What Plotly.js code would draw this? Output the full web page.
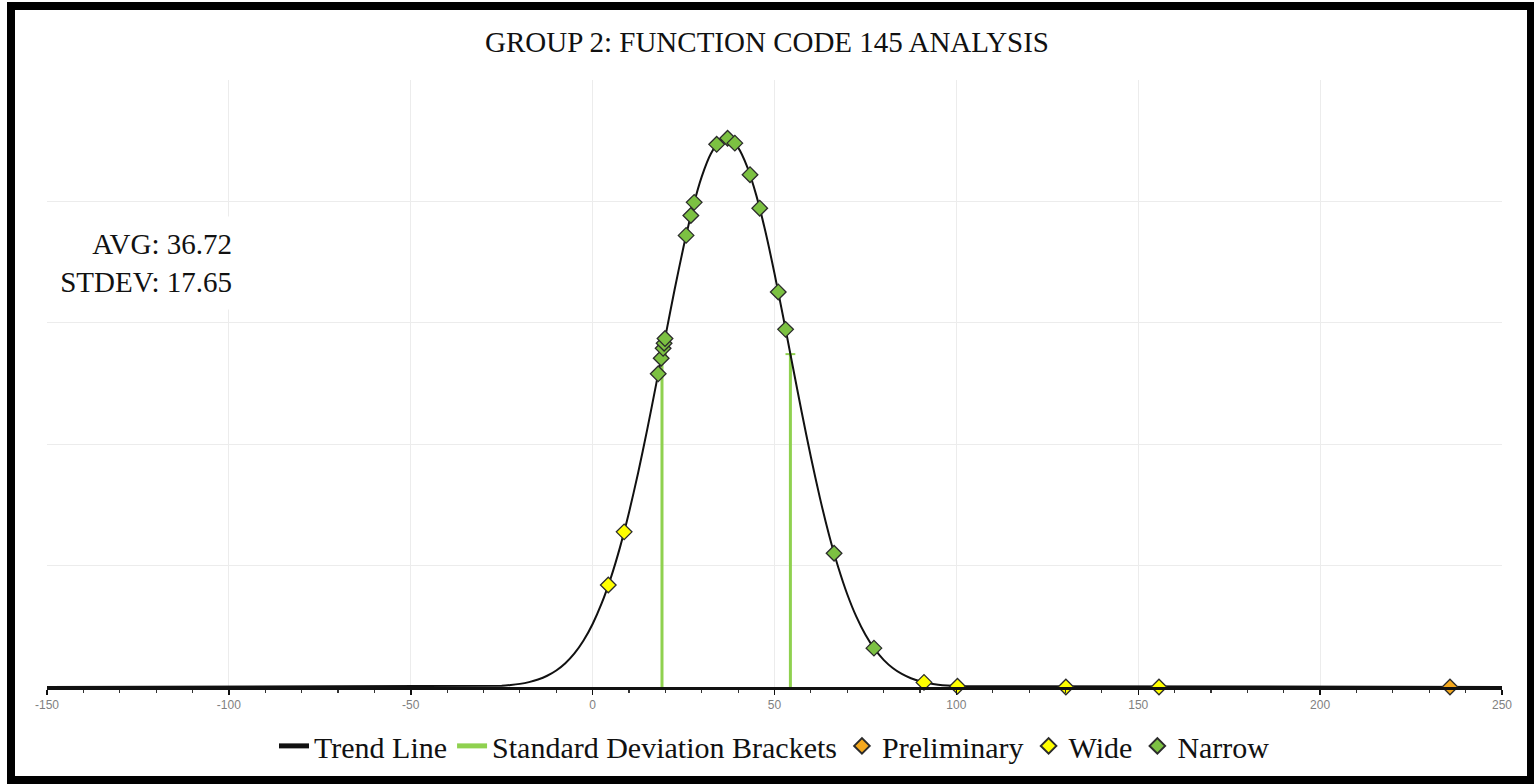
<!DOCTYPE html>
<html>
<head>
<meta charset="utf-8">
<script src="https://cdn.plot.ly/plotly-3.0.1.min.js"></script>
<style>
  html, body { margin: 0; padding: 0; background: #ffffff; }
  #chart { position: absolute; left: 0; top: 0; width: 1534px; height: 784px; }
  #frame { position: absolute; left: 7px; top: 2px; width: 1527px; height: 782px;
           box-sizing: border-box; border: 8px solid #000; border-right-width: 7px;
           pointer-events: none; }
</style>
</head>
<body>
<div id="chart"></div>
<div id="frame"></div>
<script>
// ---- data ----
const trendX = [-150, -25, -22.5, -20, -17.5, -15, -12.5, -10, -7.5, -5, -2.5, 0, 2.5, 5, 7.5, 10, 12.5, 15, 17.5, 20, 22.5, 25, 27.5, 30, 32.5, 35, 37.5, 40, 42.5, 45, 47.5, 50, 52.5, 55, 57.5, 60, 62.5, 65, 67.5, 70, 72.5, 75, 77.5, 80, 82.5, 85, 87.5, 90, 92.5, 95, 97.5, 100, 250];
const trendY = [0, 0.00005, 0.000081, 0.000129, 0.000202, 0.000309, 0.000463, 0.00068, 0.00098, 0.001383, 0.001914, 0.002596, 0.00345, 0.004496, 0.005741, 0.007186, 0.008816, 0.010601, 0.012493, 0.014432, 0.016339, 0.018131, 0.01972, 0.021023, 0.021966, 0.022496, 0.022581, 0.022216, 0.021423, 0.020248, 0.018757, 0.01703, 0.015157, 0.01322, 0.011303, 0.009471, 0.007779, 0.006261, 0.004941, 0.003821, 0.002896, 0.002151, 0.001567, 0.001118, 0.000782, 0.000536, 0.00036, 0.000237, 0.000153, 0.000097, 0.00006, 0.000037, 0];

const bracketX = [19.07, 54.37];
const bracketTop = [0.01371, 0.01371];

const prelimX = [235.7];
const prelimY = [0];

const wideX = [4.3, 8.66, 91.1, 100.3, 130.1, 155.7];
const wideY = [0.0042, 0.00639, 0.00019, 0.00003, 0, 0];

const narrowX = [18.03, 18.85, 19.38, 19.65, 19.9, 25.7, 27.0, 27.92, 34.1, 37.1, 39.1, 43.27, 45.94, 51.03, 53.05, 66.38, 77.34];
const narrowY = [0.0129, 0.01354, 0.01395, 0.01416, 0.01435, 0.0186, 0.01942, 0.01996, 0.02235, 0.0226, 0.0224, 0.0211, 0.01972, 0.01627, 0.01473, 0.00551, 0.0016];

const tickVals = [-150, -100, -50, 0, 50, 100, 150, 200, 250];
const tickLabels = ['-150', '-100', '-50', '0', '50', '100', '150', '200', '250'];

const titleText = 'GROUP 2: FUNCTION CODE 145 ANALYSIS';
const statsText = 'AVG: 36.72<br>STDEV: 17.65';

// ---- build traces ----
const serif = 'Liberation Serif, Times New Roman, serif';
const bracketGreen = '#8fd14f';
const bx = [], by = [];
bracketX.forEach((x, i) => { bx.push(x, x, null); by.push(0, bracketTop[i], null); });

const diamond = (color) => ({ symbol: 'diamond', size: 12, color: color, line: { color: '#2b2b2b', width: 1.3 } });

const traces = [
  { type: 'scatter', mode: 'lines', name: 'Standard Deviation Brackets', x: bx, y: by,
    line: { color: bracketGreen, width: 3 }, legendrank: 2, hoverinfo: 'skip' },
  { type: 'scatter', mode: 'markers', showlegend: false, x: bracketX, y: bracketTop,
    marker: { symbol: 'line-ew-open', size: 7, color: bracketGreen, line: { color: bracketGreen, width: 2 } }, hoverinfo: 'skip' },
  { type: 'scatter', mode: 'lines', name: 'Trend Line', x: trendX, y: trendY,
    line: { color: '#111111', width: 2, shape: 'spline', smoothing: 0.6 }, legendrank: 1 },
  { type: 'scatter', mode: 'markers', name: 'Preliminary', x: prelimX, y: prelimY,
    marker: diamond('#f4a81d'), legendrank: 3, cliponaxis: false },
  { type: 'scatter', mode: 'markers', name: 'Wide', x: wideX, y: wideY,
    marker: diamond('#ffff00'), legendrank: 4, cliponaxis: false },
  { type: 'scatter', mode: 'markers', name: 'Narrow', x: narrowX, y: narrowY,
    marker: diamond('#7cc142'), legendrank: 5, cliponaxis: false }
];

const layout = {
  width: 1534, height: 784,
  paper_bgcolor: '#ffffff', plot_bgcolor: '#ffffff',
  margin: { l: 47, r: 32, t: 80, b: 97 },
  title: { text: titleText, font: { family: serif, size: 29, color: '#111111' },
           xref: 'container', x: 0.5, xanchor: 'center', yref: 'container', y: 0.946, yanchor: 'middle' },
  xaxis: {
    range: [-150, 250], tickmode: 'array', tickvals: tickVals, ticktext: tickLabels,
    showgrid: true, gridcolor: '#ececec', gridwidth: 1, zeroline: false,
    showline: true, linecolor: '#111111', linewidth: 2.5,
    ticks: 'outside', ticklen: 5, tickwidth: 1.5, tickcolor: '#111111',
    minor: { dtick: 10, ticks: 'outside', ticklen: 3, tickwidth: 1.2, tickcolor: '#333333', showgrid: false },
    tickfont: { family: 'Liberation Sans, Arial, sans-serif', size: 12, color: '#7f7f7f' },
    fixedrange: true
  },
  yaxis: {
    range: [0, 0.025], dtick: 0.005, showticklabels: false, ticks: '',
    showgrid: true, gridcolor: '#ececec', gridwidth: 1, zeroline: false, showline: false,
    fixedrange: true
  },
  legend: { orientation: 'h', x: 0.5, xanchor: 'center', y: -0.097, yanchor: 'middle',
            font: { family: serif, size: 30, color: '#111111' }, bgcolor: 'rgba(0,0,0,0)',
            itemsizing: 'constant' },
  annotations: [{
    text: statsText, xref: 'paper', yref: 'paper', x: 0.1293, y: 0.6985,
    xanchor: 'right', yanchor: 'middle', align: 'right', showarrow: false,
    font: { family: serif, size: 29, color: '#111111' },
    bgcolor: '#ffffff', width: 184, height: 88, borderpad: 2
  }],
  showlegend: true
};

Plotly.newPlot('chart', traces, layout, { displayModeBar: false, staticPlot: true });
</script>
</body>
</html>
